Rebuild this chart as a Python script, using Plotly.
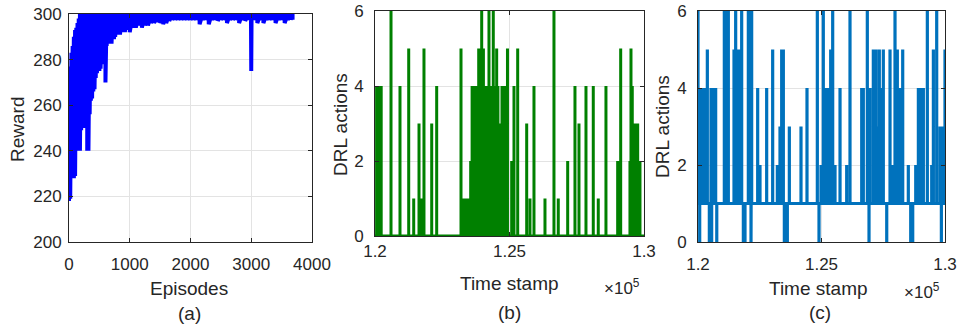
import plotly.graph_objects as go

FONT = "Liberation Sans, Arial, Helvetica, sans-serif"
TXT = "#262626"

# ---------------- Panel (a): reward per episode (upper / lower envelope)
episodes = [0, 20, 40, 60, 80, 100, 120, 140, 160, 180, 200, 220, 240, 260, 280, 300, 320, 340, 360, 380,
            400, 420, 440, 460, 480, 500, 520, 540, 560, 580, 600, 620, 640, 660, 680, 700, 720, 740, 760, 780,
            800, 820, 840, 860, 880, 900, 920, 940, 960, 980, 1000,
            1050, 1100, 1150, 1200, 1250, 1300, 1350, 1400, 1450, 1500, 1550, 1600, 1650, 1700, 1750, 1800,
            1850, 1900, 1950, 2000, 2050, 2100, 2150, 2200, 2250, 2300, 2350, 2400, 2450, 2500, 2550, 2600,
            2650, 2700, 2750, 2800, 2850, 2900, 2950, 2995, 3000, 3005, 3050, 3100, 3150, 3200, 3250, 3300,
            3350, 3400, 3450, 3500, 3550, 3600, 3650, 3680]
reward_high = [265, 277, 283, 286, 290, 293, 294, 296, 298, 300, 300, 300, 300, 300, 300, 300, 300, 300, 300, 300,
               300, 300, 300, 300, 300, 300, 300, 300, 300, 300, 300, 300, 300, 300, 300, 300, 300, 300, 300, 300,
               300, 300, 300, 300, 300, 300, 300, 300, 300, 300, 300,
               300, 300, 300, 300, 300, 300, 300, 300, 300, 300, 300, 300, 300, 300, 300, 300,
               300, 300, 300, 300, 300, 300, 300, 300, 300, 300, 300, 300, 300, 300, 300, 300,
               300, 300, 300, 300, 300, 300, 300, 300, 300, 300, 300, 300, 300, 300, 300, 300,
               300, 300, 300, 300, 300, 300, 300, 300]
reward_low = [218, 219, 240, 238, 228, 229, 241, 240, 242, 240, 249, 251, 250, 252, 253, 240, 240, 256, 262, 263,
              266, 267, 272, 274, 275, 275, 276, 278, 281, 285, 270, 286, 287, 287, 288, 287, 289, 289, 290, 291,
              291, 292, 291, 292, 292, 293, 292, 293, 293, 293, 292,
              294, 294, 295, 294, 295, 295, 296, 296, 296.5, 296, 295.5, 296, 297, 297.5, 297.5, 297.5,
              297.5, 297.5, 297.5, 297.5, 297.5, 297.5, 295.5, 297.5, 297.5, 295.5, 297.5, 297.5, 297, 297.5,
              297.5, 296, 297.5, 297.5, 297.5, 296, 297.5, 297, 297.5, 297.5, 275, 297.5, 297.5, 296, 297.5,
              296, 297.5, 297.5, 297.5, 296, 297.5, 297.5, 296, 297.5, 297.5, 297.5]
assert len(episodes) == len(reward_high) == len(reward_low)

# ---------------- Panel (b): DRL actions (spikes from 0)
b_times = [120060, 120130, 120230, 120595, 120929, 121253, 121439, 121636, 121710, 121821, 122108, 122293,
           123197, 123270, 123350, 123420, 123470, 123557, 123610, 123654, 123705, 123754, 123805, 123855,
           123910, 123966, 124030, 124089, 124160, 124237, 124300, 124397, 124460, 124523, 124570, 124620,
           124670, 124721, 124820, 124925, 125081, 125167, 125304, 125639, 125761, 125910, 126319, 126653,
           126813, 127163, 127434, 127583, 127843, 128114, 128300, 128586, 129021, 129133, 129478, 129516,
           129564, 129664, 129765, 129850]
b_actions = [4, 4, 4, 6, 4, 5, 1, 3, 1, 5, 3, 4,
             5, 1, 1, 1, 1, 2, 4, 4, 2, 4, 4, 5,
             4, 6, 5, 4, 4, 6, 4, 6, 4, 5, 4, 3,
             3, 4, 4, 5, 2, 4, 5, 3, 1, 4, 1, 6,
             1, 2, 4, 3, 4, 4, 1, 4, 2, 5, 2, 5,
             4, 3, 3, 2]

# ---------------- Panel (c): DRL actions (baseline 1, spikes up and dips to 0)
c_times = [120000, 120069, 120121, 120216, 120283, 120378, 120459, 120526, 120553, 120621, 120715, 120760,
           121066, 121161, 121228, 121458, 121525, 121606, 121674, 121768, 121836, 121903, 122038, 122106,
           122146, 122173, 122416, 122510, 122780, 123023, 123212, 123320, 123388, 123455, 123496, 123550,
           123617, 123698, 124170, 124413, 124831, 124899, 124980, 125073, 125183, 125277, 125372, 125453,
           125547, 125750, 126020, 126154, 126628, 126693, 126855, 126924, 126964, 127098, 127207, 127260,
           127341, 127438, 127503, 127641, 127774, 127883, 127976, 128070, 128179, 128288, 128515, 128612,
           128693, 128815, 128922, 129029, 129124, 129285, 129462, 129529, 129664, 129799, 129853, 129910,
           129960, 130000]
c_actions = [6, 0, 4, 4, 4, 5, 0, 4, 0, 4, 4, 0,
             6, 6, 6, 5, 6, 5, 5, 6, 0, 0, 6, 6,
             0, 6, 4, 2, 4, 5, 2, 3, 5, 5, 0, 0,
             0, 3, 3, 4, 6, 0, 2, 6, 4, 4, 5, 6,
             2, 4, 2, 6, 4, 4, 6, 0, 4, 5, 5, 3,
             5, 4, 5, 0, 5, 2, 6, 5, 4, 5, 2, 0,
             0, 2, 4, 4, 4, 6, 2, 5, 6, 3, 0, 3,
             3, 5]

a_xticks = [0, 1000, 2000, 3000, 4000]
a_yticks = [200, 220, 240, 260, 280, 300]
t_ticks = [120000, 125000, 130000]
t_ticklabels = ["1.2", "1.25", "1.3"]
act_ticks = [0, 2, 4, 6]


def zigzag(xs, hi, lo):
    X, Y = [], []
    for x, h, l in zip(xs, hi, lo):
        X += [x, x]
        Y += [h, l]
    return X, Y


def spikes(ts, vs, base, t0, t1):
    X, Y = [t0], [base]
    for t, v in zip(ts, vs):
        X += [t, t, t]
        Y += [base, v, base]
    X.append(t1)
    Y.append(base)
    return X, Y


W, H = 958, 328

fig = go.Figure()
ax_, ay_ = zigzag(episodes, reward_high, reward_low)
fig.add_trace(go.Scatter(x=ax_, y=ay_, mode="lines", line=dict(color="#0000FF", width=4),
                         xaxis="x", yaxis="y", showlegend=False))
bx, by = spikes(b_times, b_actions, 0, 120000, 130000)
fig.add_trace(go.Scatter(x=bx, y=by, mode="lines", line=dict(color="#008000", width=3),
                         xaxis="x2", yaxis="y2", showlegend=False))
cx, cy = spikes(c_times, c_actions, 1, 120000, 130000)
fig.add_trace(go.Scatter(x=cx, y=cy, mode="lines", line=dict(color="#0072BD", width=3.2),
                         xaxis="x3", yaxis="y3", showlegend=False))

common = dict(showline=True, linecolor=TXT, linewidth=1, mirror="ticks", ticks="inside", ticklen=4,
              tickcolor=TXT, showgrid=True, gridcolor="#e3e3e3", gridwidth=1, zeroline=False,
              tickfont=dict(family=FONT, size=17, color=TXT), fixedrange=True, automargin=False)


def dom_x(l, r):
    return [l / W, r / W]


def dom_y(top, bottom):
    return [1 - bottom / H, 1 - top / H]


fig.update_layout(
    width=W, height=H, margin=dict(l=0, r=0, t=0, b=0, pad=0, autoexpand=False),
    paper_bgcolor="white", plot_bgcolor="white",
    xaxis=dict(common, domain=dom_x(69, 312), range=[0, 4000], tickvals=a_xticks, anchor="y",
               ticklabelstandoff=7),
    yaxis=dict(common, domain=dom_y(14, 242), range=[200, 300], tickvals=a_yticks, anchor="x",
               ticklabelstandoff=3),
    xaxis2=dict(common, domain=dom_x(375, 644), range=[120000, 130000], tickvals=t_ticks,
                ticktext=t_ticklabels, anchor="y2", ticklabelstandoff=0),
    yaxis2=dict(common, domain=dom_y(11, 236), range=[0, 6], tickvals=act_ticks, anchor="x2",
                ticklabelstandoff=7),
    xaxis3=dict(common, domain=dom_x(698, 945), range=[120000, 130000], tickvals=t_ticks,
                ticktext=t_ticklabels, anchor="y3", ticklabelstandoff=7),
    yaxis3=dict(common, domain=dom_y(11, 242), range=[0, 6], tickvals=act_ticks, anchor="x3",
                ticklabelstandoff=7),
)


def ann(text, px, py, size=19, angle=0):
    fig.add_annotation(text=text, x=px / W, y=1 - py / H, xref="paper", yref="paper",
                       xanchor="center", yanchor="middle", showarrow=False, textangle=angle,
                       font=dict(family=FONT, size=size, color=TXT))


ann("Reward", 17, 130, angle=-90)
ann("Episodes", 189, 288)
ann("(a)", 189, 313)
ann("DRL actions", 340, 125, angle=-90)
ann("Time stamp", 510, 283)
ann("×10<sup>5</sup>", 622, 287, size=17)
ann("(b)", 510, 312)
ann("DRL actions", 662, 127, angle=-90)
ann("Time stamp", 818, 288)
ann("×10<sup>5</sup>", 922, 291, size=17)
ann("(c)", 820, 312)

fig.write_html("out.html", config={"displayModeBar": False},
               post_script="document.body.style.margin='0px';document.body.style.overflow='hidden';")
